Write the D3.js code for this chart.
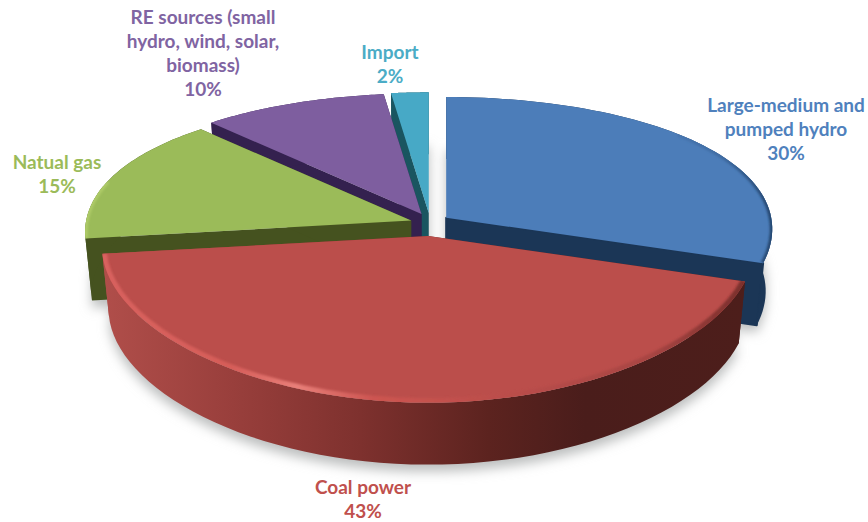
<!DOCTYPE html>
<html>
<head>
<meta charset="utf-8">
<script src="https://cdn.jsdelivr.net/npm/d3@7"></script>
<style>
  html, body { margin: 0; padding: 0; background: #fff; }
  svg { display: block; }
  text { font-family: Lato, "Open Sans", sans-serif; font-weight: 700; font-size: 19px; }
</style>
</head>
<body>
<div id="chart"></div>
<script>
// data
var categories = ["Large-medium and pumped hydro", "Coal power", "Natual gas", "RE sources (small hydro, wind, solar, biomass)", "Import"];
var shares = [30, 43, 15, 10, 2];
var shareLabels = ["30%", "43%", "15%", "10%", "2%"];

// styling, same order as categories
var topColors = ["#4c7db9", "#bb4e4b", "#9bbb59", "#7e5e9f", "#47a9c6"];
var wallColors = ["#1b3656", "#7a2f2c", "#45521f", "#34214f", "#1a5560"];
var textColors = ["#4f81bd", "#c0504d", "#9bbb59", "#8064a2", "#4bacc6"];
var labelWrap = [
  ["Large-medium and", "pumped hydro"],
  ["Coal power"],
  ["Natual gas"],
  ["RE sources (small", "hydro, wind, solar,", "biomass)"],
  ["Import"]
];
var labelAnchor = [[786, 105], [363, 487], [57, 162], [203, 17], [390, 52]];

var svgWidth = 868;
var svgHeight = 522;

// pie geometry
var cx = 430, cy = 224.5;
var radiusX = 325, radiusY = 140;
var perspX = 0.08, perspY = 0.16;
var explodeX = 20, explodeY = 11.5;
var depth = 62;
var lineStep = 24;

var pie = d3.pie().sort(null).value(d => d);
var slices = pie(shares).map((s, i) => {
  var mid = (s.startAngle + s.endAngle) / 2;
  s.i = i;
  s.ox = cx + explodeX * Math.sin(mid);
  s.oy = cy - explodeY * Math.cos(mid);
  return s;
});

function project(s, a, lowered) {
  var u = Math.sin(a), v = -Math.cos(a);
  var k = lowered ? 0.98 : 1;
  return [
    s.ox + k * radiusX * u / (1 - perspX * v),
    s.oy + radiusY * v / (1 - perspY * v) + (lowered ? depth : 0)
  ];
}

function arcPoints(s, lowered) {
  return d3.range(0, 61).map(j => project(s, s.startAngle + (s.endAngle - s.startAngle) * j / 60, lowered));
}

var line = d3.line();
function topPath(s) { return line([[s.ox, s.oy]].concat(arcPoints(s, false))) + "Z"; }
function bottomPath(s) { return line([[s.ox, s.oy + depth]].concat(arcPoints(s, true))) + "Z"; }
function outerWall(s) { return line(arcPoints(s, false).concat(arcPoints(s, true).reverse())) + "Z"; }
function radialWall(s, a) {
  var rim = project(s, a, false), low = project(s, a, true);
  return line([[s.ox, s.oy], rim, low, [s.ox, s.oy + depth]]) + "Z";
}

var svg = d3.select("#chart")
  .append("svg")
  .attr("width", svgWidth)
  .attr("height", svgHeight);

var defs = svg.append("defs");
defs.append("filter").attr("id", "soft")
  .attr("x", "-20%").attr("y", "-20%").attr("width", "140%").attr("height", "140%")
  .append("feGaussianBlur").attr("stdDeviation", 6);
defs.append("filter").attr("id", "bevel")
  .append("feGaussianBlur").attr("stdDeviation", 1.2);

function gradient(id, x1, x2, stops) {
  var g = defs.append("linearGradient").attr("id", id)
    .attr("gradientUnits", "userSpaceOnUse")
    .attr("x1", x1).attr("x2", x2).attr("y1", 0).attr("y2", 0);
  stops.forEach(d => g.append("stop").attr("offset", d[0]).attr("stop-color", d[1]));
}
gradient("redWall", 104, 745, [[0, "#b04e4a"], [0.2, "#993f3c"], [0.4, "#7e312e"], [0.6, "#5c231f"], [0.75, "#4a1d1b"], [1, "#4d1e1b"]]);
gradient("redRim", 104, 745, [[0, "#d8625e"], [0.2, "#d65d59"], [0.3, "#e87f79"], [0.42, "#cd5551"], [0.62, "#bb4e4b"], [0.85, "#a84543"], [1, "#7a2f2c"]]);
gradient("blueRim", 640, 772, [[0, "#4c7db9"], [0.6, "#3f6ca3"], [1, "#24466f"]]);

// clip each rim to its own top face
[0, 1, 2].forEach(i => {
  defs.append("clipPath").attr("id", "topClip" + i)
    .append("path").attr("d", topPath(slices[i]));
});

// soft shadow under the whole pie
var shadow = svg.append("g").attr("filter", "url(#soft)");
[7, -8].forEach(shift => {
  shadow.append("g")
    .attr("transform", `translate(0, ${shift})`)
    .selectAll("path")
    .data(slices)
    .enter()
    .append("path")
    .attr("d", bottomPath)
    .attr("fill", "#bcbebe");
});

// back to front: import, RE, gas, hydro, coal
var drawOrder = [4, 3, 2, 0, 1];

var sliceGroup = svg.selectAll(".slice")
  .data(drawOrder.map(i => slices[i]))
  .enter()
  .append("g")
  .attr("class", "slice");

function wallFill(s) { return s.i === 1 ? "url(#redWall)" : wallColors[s.i]; }

sliceGroup.append("path")
  .attr("d", s => radialWall(s, s.startAngle))
  .attr("fill", wallFill);
sliceGroup.append("path")
  .attr("d", s => radialWall(s, s.endAngle))
  .attr("fill", wallFill)
  .attr("stroke", wallFill)
  .attr("stroke-width", s => s.i === 0 ? 2 : 0)
  .attr("stroke-linejoin", "round");
sliceGroup.append("path")
  .attr("d", outerWall)
  .attr("fill", wallFill);
sliceGroup.append("path")
  .attr("d", topPath)
  .attr("fill", s => topColors[s.i]);

// rim bevels on the coal, hydro and gas tops, drawn on the edge and clipped inside
function rimPath(s, from, to) {
  return line(d3.range(0, 41).map(j => project(s, s.startAngle + (s.endAngle - s.startAngle) * (from + (to - from) * j / 40), false)));
}
var rimSpec = [
  { i: 1, from: 0, to: 1, stroke: "url(#redRim)", width: 9 },
  { i: 0, from: 0.45, to: 1, stroke: "url(#blueRim)", width: 5 },
  { i: 2, from: 0, to: 0.45, stroke: "#aecb68", width: 5 }
];
rimSpec.forEach(r => {
  svg.append("g")
    .attr("clip-path", `url(#topClip${r.i})`)
    .append("path")
    .attr("d", rimPath(slices[r.i], r.from, r.to))
    .attr("fill", "none")
    .attr("stroke", r.stroke)
    .attr("stroke-width", r.width)
    .attr("filter", "url(#bevel)");
});

// labels
var labels = svg.selectAll(".pieLabel")
  .data(slices)
  .enter()
  .append("text")
  .attr("class", "pieLabel")
  .attr("text-anchor", "middle")
  .attr("fill", s => textColors[s.i]);

labels.each(function(s) {
  var lines = labelWrap[s.i].concat([shareLabels[s.i]]);
  d3.select(this).selectAll("tspan")
    .data(lines)
    .enter()
    .append("tspan")
    .attr("x", labelAnchor[s.i][0])
    .attr("y", (d, j) => labelAnchor[s.i][1] + j * lineStep)
    .attr("dy", "0.35em")
    .text(d => d);
});
</script>
</body>
</html>
